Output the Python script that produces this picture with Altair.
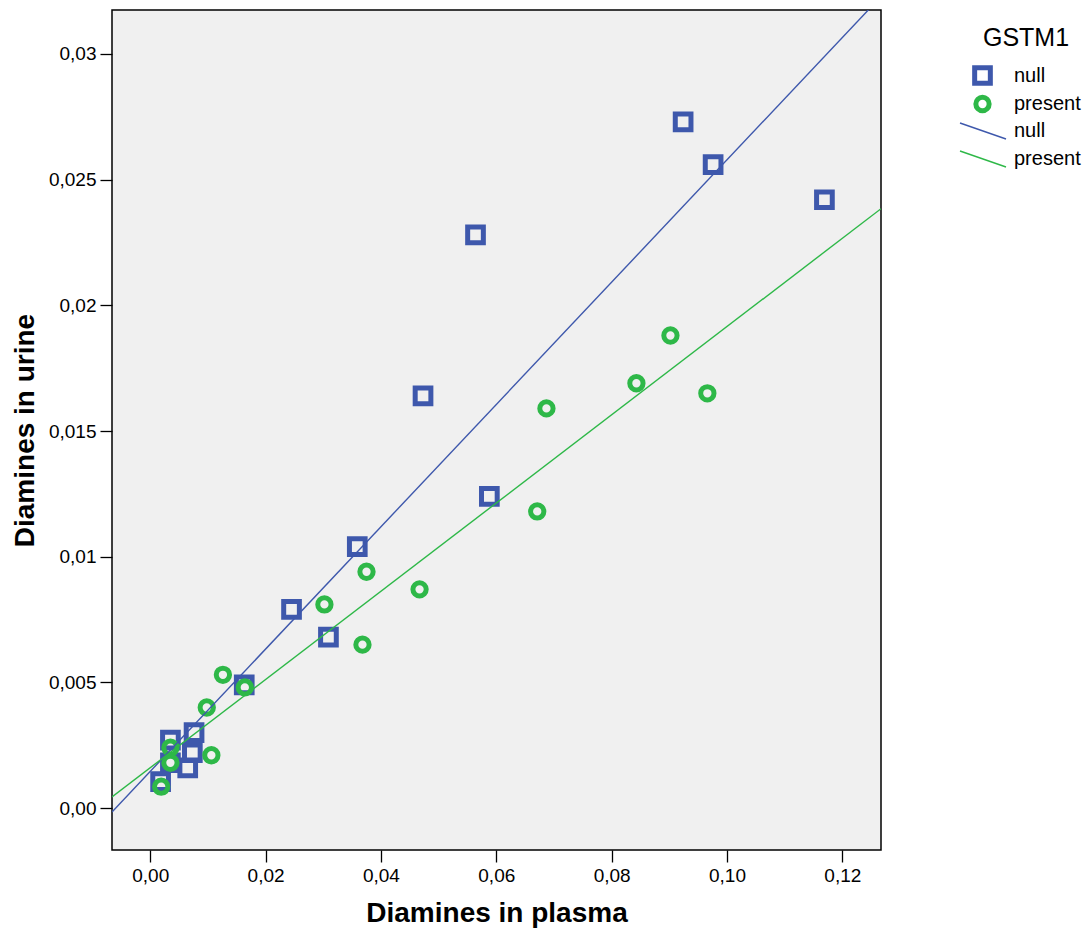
import altair as alt
import pandas as pd

# ---- data ----
groups = ["null", "present"]
null_x = [0.0924, 0.0976, 0.1169, 0.0564, 0.0473, 0.0588, 0.0359, 0.0245,
          0.0309, 0.0163, 0.0076, 0.0035, 0.0073, 0.0065, 0.0035, 0.0018]
null_y = [0.0273, 0.0256, 0.0242, 0.0228, 0.0164, 0.0124, 0.0104, 0.0079,
          0.0068, 0.0049, 0.0030, 0.0027, 0.0022, 0.0016, 0.0018, 0.00105]
present_x = [0.0902, 0.0843, 0.0966, 0.0687, 0.0671, 0.0375, 0.0302, 0.0467,
             0.0368, 0.0126, 0.0164, 0.0098, 0.0035, 0.0106, 0.0035, 0.0019]
present_y = [0.0188, 0.0169, 0.0165, 0.0159, 0.0118, 0.0094, 0.0081, 0.0087,
             0.0065, 0.0053, 0.0048, 0.0040, 0.0024, 0.0021, 0.0018, 0.00085]
x_ticks = [0.0, 0.02, 0.04, 0.06, 0.08, 0.10, 0.12]
y_ticks = [0.0, 0.005, 0.01, 0.015, 0.02, 0.025, 0.03]
x_domain = [-0.00663, 0.12671]
y_domain = [-0.00167, 0.03175]

colors = ["#3E58AC", "#2EB848"]

df = pd.DataFrame({
    "x": null_x + present_x,
    "y": null_y + present_y,
    "group": ["null"] * len(null_x) + ["present"] * len(present_x),
})

FONT = "Liberation Sans"

xenc = alt.X("x:Q", scale=alt.Scale(domain=x_domain, nice=False, zero=False),
             axis=alt.Axis(values=x_ticks,
                           labelExpr="replace(format(datum.value, '.2f'), '.', ',')",
                           titlePadding=14),
             title="Diamines in plasma")
yenc = alt.Y("y:Q", scale=alt.Scale(domain=y_domain, nice=False, zero=False),
             axis=alt.Axis(values=y_ticks,
                           labelExpr="slice(format(datum.value, '.3f'), -1) == '0' ? replace(format(datum.value, '.2f'), '.', ',') : replace(format(datum.value, '.3f'), '.', ',')",
                           titlePadding=9),
             title="Diamines in urine")

pt_legend = alt.Legend(title="GSTM1", orient="none", legendX=860, legendY=16,
                       titleFontSize=25, titleFontWeight="normal", titleFont=FONT,
                       titleAnchor="middle", titlePadding=14,
                       labelFontSize=20, labelFont=FONT, labelOffset=21,
                       symbolStrokeWidth=5, rowPadding=-9)

points = alt.Chart(df).mark_point(filled=False, strokeWidth=5, opacity=1).encode(
    x=xenc,
    y=yenc,
    color=alt.Color("group:N", scale=alt.Scale(domain=groups, range=colors), legend=pt_legend),
    shape=alt.Shape("group:N", scale=alt.Scale(domain=groups, range=["square", "circle"]), legend=pt_legend),
    size=alt.Size("group:N", scale=alt.Scale(domain=groups, range=[246, 177]), legend=pt_legend),
)

line_legend = alt.Legend(title=None, orient="none", legendX=861, legendY=111,
                         labelFontSize=20, labelFont=FONT, labelOffset=21,
                         symbolType="M-4.6,-1.6L4.6,1.6", symbolSize=100,
                         symbolStrokeWidth=1.4, rowPadding=6)

lines = alt.Chart(df).transform_regression(
    "x", "y", groupby=["group"], extent=x_domain
).mark_line(clip=True, strokeWidth=1.4).encode(
    x=alt.X("x:Q"),
    y=alt.Y("y:Q"),
    color=alt.Color("group:N", scale=alt.Scale(domain=groups, range=colors), legend=line_legend),
)

chart = alt.layer(points, lines).resolve_scale(
    color="independent", shape="independent", size="independent"
).properties(
    width=769, height=840,
    autosize=alt.AutoSizeParams(type="none"),
    padding={"left": 112, "top": 10, "right": 208, "bottom": 84},
).configure_view(
    fill="#f0f0f0", stroke="black", strokeWidth=1.5
).configure_axis(
    domain=False, grid=False, tickColor="black", tickSize=12, tickWidth=1.3,
    labelFont=FONT, labelFontSize=19, labelColor="black", labelPadding=4,
    titleFont=FONT, titleFontSize=28, titleFontWeight="bold", titleColor="black",
).configure_legend(
    labelColor="black", titleColor="black"
)

chart.save("out.html", embed_options={"renderer": "svg", "actions": False})
